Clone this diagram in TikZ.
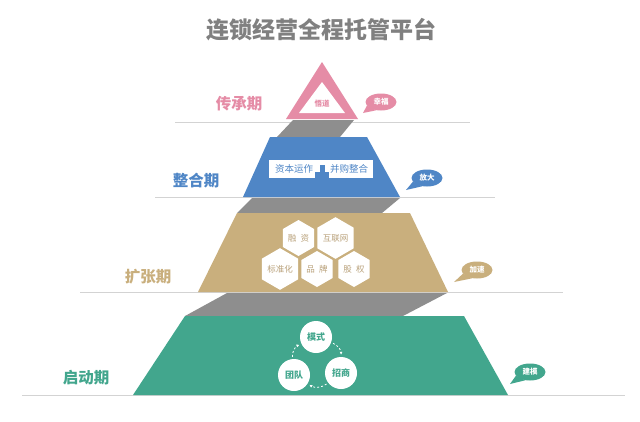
\documentclass[tikz,border=0pt]{standalone}
\usepackage{fontspec}
\usetikzlibrary{shapes.geometric,arrows.meta}
\newfontfamily\cjk{Noto Sans CJK SC}
\definecolor{cpink}{HTML}{E58CA6}
\definecolor{cblue}{HTML}{4F86C6}
\definecolor{ctan}{HTML}{C9AF7D}
\definecolor{ctantext}{HTML}{B9A17A}
\definecolor{cgreen}{HTML}{42A68D}
\definecolor{cgreyband}{HTML}{8E8E8E}
\definecolor{cline}{HTML}{D3D3D3}
\definecolor{ctitle}{HTML}{808080}
\begin{document}
\begin{tikzpicture}[x=1pt,y=-1pt,
 tierlabel/.style={font=\cjk\bfseries\fontsize{15.5}{16}\selectfont},
 bubble/.style={ellipse, inner sep=0pt, minimum width=31pt, minimum height=17pt, text=white, font=\cjk\bfseries\fontsize{7.5}{8}\selectfont},
 sepline/.style={draw=cline, line width=1pt},
 band/.style={fill=cgreyband},
 hexa/.style={regular polygon, regular polygon sides=6, shape border rotate=30, minimum size=36pt, inner sep=0pt, fill=white, text=ctantext, font=\cjk\fontsize{8.5}{9}\selectfont},
 roundel/.style={circle, minimum size=32pt, inner sep=0pt, fill=white, text=cgreen, font=\cjk\bfseries\fontsize{9}{10}\selectfont},
 wbox/.style={fill=white, inner sep=0pt, minimum height=18pt},
 boxtext/.style={text=cblue, inner sep=0pt, font=\cjk\fontsize{9.5}{10}\selectfont},
 cyclearrow/.style={draw=white, line width=0.8pt, dash pattern=on 2pt off 2pt, -{Latex[length=3pt,width=3pt]}, shorten <=2pt, shorten >=2pt}
]
\useasboundingbox (0,0) rectangle (640,421);
\fill[white] (0,0) rectangle (640,421);

% title
\node[text=ctitle, font=\cjk\bfseries\fontsize{23}{24}\selectfont] (title) at (321,30) {连锁经营全程托管平台};

% separator lines
\draw[sepline] (175,122) -- (470,122);
\draw[sepline] (155,197) -- (495,197);
\draw[sepline] (80,292) -- (563,292);
\draw[sepline] (22,395) -- (625,395);

% grey bands
\fill[band] (293,120) -- (354,120) -- (340,137) -- (277,137) -- cycle;
\fill[band] (252,198) -- (400,198) -- (382,213) -- (237,213) -- cycle;
\fill[band] (227,293) -- (447,293) -- (403,316) -- (185,316) -- cycle;

% tiers
\fill[cpink] (322,62) -- (358,119) -- (286,119) -- cycle;
\fill[white] (322,82) -- (345,113) -- (299,113) -- cycle;
\fill[cblue] (270,137) -- (367,137) -- (400,197) -- (243,197) -- cycle;
\fill[ctan] (237,213) -- (410,213) -- (448,292) -- (198,292) -- cycle;
\fill[cgreen] (185,316) -- (464,316) -- (508,395) -- (133,395) -- cycle;

% top tier text
\node[text=cpink, font=\cjk\bfseries\fontsize{7.5}{8}\selectfont] (wudao) at (322,104) {悟道};

% blue tier boxes
\node[wbox, minimum width=104pt] (box) at (321,169) {};
\node[boxtext] (b1) at (294,169) {资本运作};
\node[boxtext] (b2) at (349,169) {并购整合};
\fill[cblue] (319.5,165) rectangle (324.5,185);
\fill[cblue] (315,172) rectangle (329,178);

% hexagons
\node[hexa] (h1) at (298.5,238) {融\enspace 资};
\node[hexa] (h2) at (335.5,238) {互联网};
\node[hexa] (h3) at (280,269) {标准化};
\node[hexa] (h4) at (317,269) {品\enspace 牌};
\node[hexa] (h5) at (354,269) {股\enspace 权};

% circles
\node[roundel] (c1) at (316,337) {模式};
\node[roundel] (c2) at (294,375) {团队};
\node[roundel] (c3) at (341,373) {招商};
\draw[cyclearrow] (c1) to[bend left=35] (c3);
\draw[cyclearrow] (c3) to[bend left=35] (c2);
\draw[cyclearrow] (c2) to[bend left=35] (c1);

% tier labels
\node[tierlabel, text=cpink] (l1) at (239,104) {传承期};
\node[tierlabel, text=cblue] (l2) at (196,181) {整合期};
\node[tierlabel, text=ctan] (l3) at (148,277) {扩张期};
\node[tierlabel, text=cgreen] (l4) at (86,378) {启动期};

% bubbles
\node[bubble, fill=cpink] (p1) at (381,102) {幸福};
\coordinate (t1) at (363,113);
\fill[cpink] (p1.195) -- (t1) -- (p1.240) -- cycle;
\node[bubble, fill=cblue] (p2) at (427,178) {放大};
\coordinate (t2) at (406,190);
\fill[cblue] (p2.195) -- (t2) -- (p2.240) -- cycle;
\node[bubble, fill=ctan] (p3) at (477,270) {加速};
\coordinate (t3) at (454,282);
\fill[ctan] (p3.195) -- (t3) -- (p3.240) -- cycle;
\node[bubble, fill=cgreen] (p4) at (530,372) {建模};
\coordinate (t4) at (510,384);
\fill[cgreen] (p4.195) -- (t4) -- (p4.240) -- cycle;
\end{tikzpicture}
\end{document}
